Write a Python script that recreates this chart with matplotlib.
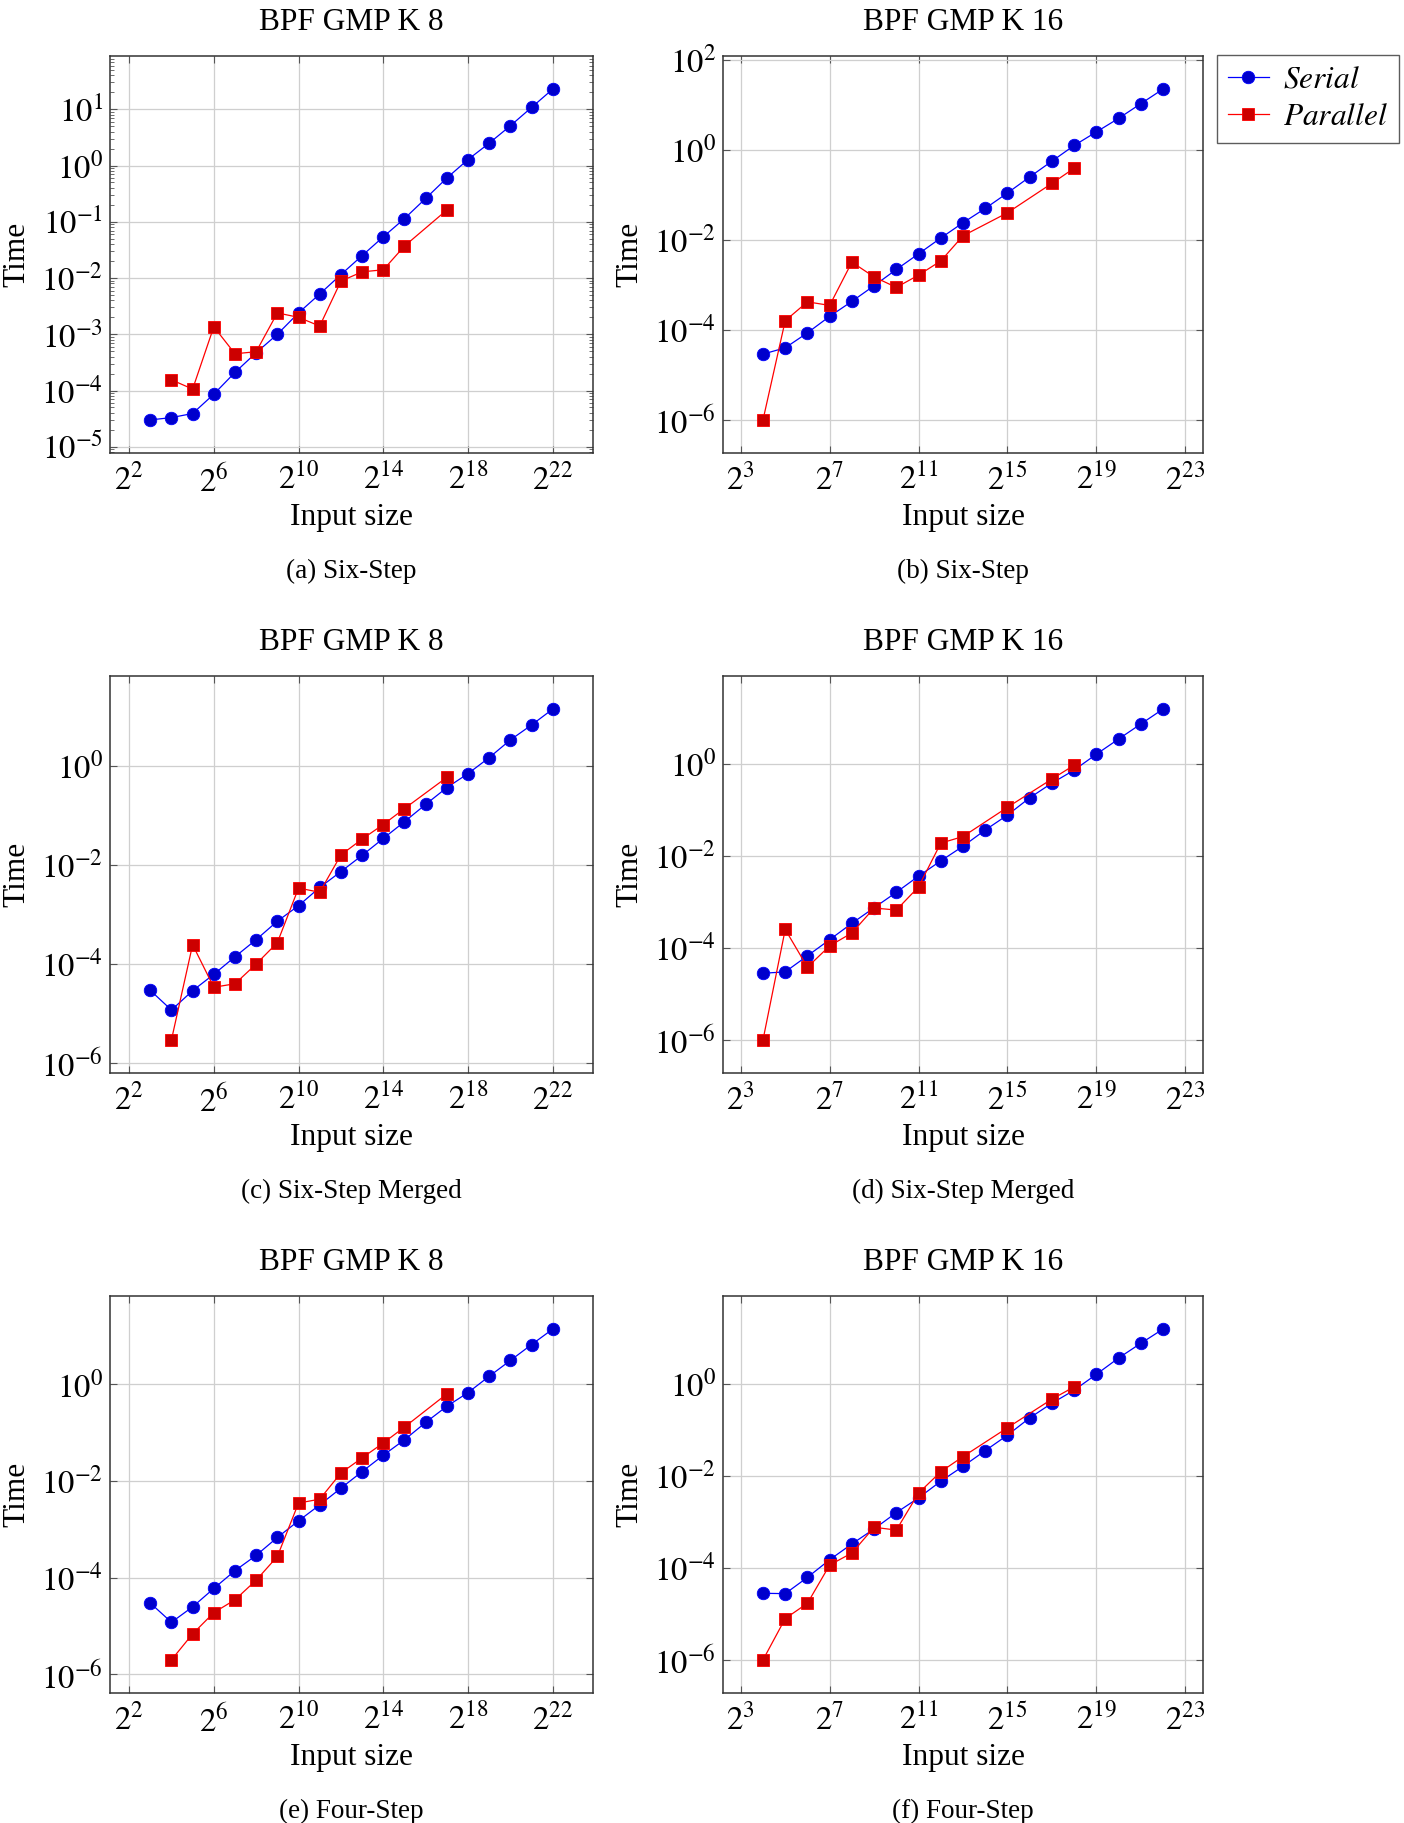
import matplotlib as mpl
mpl.use("Agg")
import matplotlib.pyplot as plt
import matplotlib.ticker as mticker
import numpy as np

plt.rcParams['font.family'] = 'serif'
plt.rcParams['font.serif'] = ['Liberation Serif', 'DejaVu Serif']
plt.rcParams['mathtext.fontset'] = 'stix'

FS = 22.6
TICK_FS = 23.6
BLUE = "#0000FF"
BLUE_FILL = "#0000CC"
RED = "#FF0000"
RED_FILL = "#CC0000"

# input size exponents (2^n)
n_serial_k8 = list(range(3, 23))
n_parallel_k8 = list(range(4, 16)) + [17]
n_serial_k16 = list(range(4, 23))
n_parallel_k16 = list(range(4, 14)) + [15, 17, 18]

# (a) Six-Step, K 8
a_serial = [3.0e-5, 3.3e-5, 3.9e-5, 8.6e-5, 2.1e-4, 4.7e-4, 1.0e-3, 2.4e-3, 5.2e-3, 1.15e-2,
            2.5e-2, 5.4e-2, 0.114, 0.26, 0.60, 1.28, 2.5, 5.1, 10.8, 22.9]
a_parallel = [1.55e-4, 1.06e-4, 1.36e-3, 4.5e-4, 4.9e-4, 2.4e-3, 2.0e-3, 1.4e-3, 8.8e-3,
              1.29e-2, 1.4e-2, 3.7e-2, 0.162]

# (b) Six-Step, K 16
b_serial = [2.9e-5, 4.0e-5, 8.6e-5, 2.0e-4, 4.3e-4, 9.6e-4, 2.2e-3, 4.9e-3, 1.1e-2, 2.4e-2,
            5.0e-2, 0.11, 0.25, 0.56, 1.25, 2.5, 5.0, 10.6, 22.4]
b_parallel = [1.0e-6, 1.6e-4, 4.2e-4, 3.5e-4, 3.2e-3, 1.5e-3, 8.8e-4, 1.65e-3, 3.4e-3,
              1.23e-2, 4.0e-2, 0.18, 0.39]

# (c) Six-Step Merged, K 8
c_serial = [2.95e-5, 1.18e-5, 2.9e-5, 6.2e-5, 1.4e-4, 3.1e-4, 7.3e-4, 1.5e-3, 3.5e-3, 7.3e-3,
            1.55e-2, 3.4e-2, 7.4e-2, 0.165, 0.36, 0.69, 1.45, 3.3, 6.6, 13.8]
c_parallel = [2.95e-6, 2.45e-4, 3.4e-5, 4.0e-5, 1.0e-4, 2.7e-4, 3.4e-3, 2.8e-3, 1.58e-2,
              3.3e-2, 6.5e-2, 0.136, 0.58]

# (d) Six-Step Merged, K 16
d_serial = [2.8e-5, 3.0e-5, 6.7e-5, 1.5e-4, 3.4e-4, 7.4e-4, 1.6e-3, 3.6e-3, 7.7e-3, 1.6e-2,
            3.6e-2, 7.6e-2, 0.18, 0.375, 0.72, 1.59, 3.4, 7.2, 15.2]
d_parallel = [1.0e-6, 2.5e-4, 3.8e-5, 1.1e-4, 2.1e-4, 7.3e-4, 6.6e-4, 2.1e-3, 1.87e-2,
              2.6e-2, 0.112, 0.46, 0.92]

# (e) Four-Step, K 8
e_serial = [3.0e-5, 1.2e-5, 2.5e-5, 6.0e-5, 1.4e-4, 2.9e-4, 6.8e-4, 1.5e-3, 3.2e-3, 7.1e-3,
            1.56e-2, 3.4e-2, 7.1e-2, 0.162, 0.35, 0.67, 1.46, 3.1, 6.6, 13.8]
e_parallel = [2.0e-6, 6.9e-6, 1.9e-5, 3.5e-5, 8.9e-5, 2.75e-4, 3.5e-3, 4.2e-3, 1.46e-2,
              3.0e-2, 6.1e-2, 0.13, 0.63]

# (f) Four-Step, K 16
f_serial = [2.8e-5, 2.75e-5, 6.2e-5, 1.5e-4, 3.3e-4, 7.0e-4, 1.58e-3, 3.3e-3, 7.6e-3, 1.6e-2,
            3.5e-2, 7.6e-2, 0.18, 0.375, 0.72, 1.59, 3.6, 7.5, 15.3]
f_parallel = [1.0e-6, 7.9e-6, 1.7e-5, 1.15e-4, 2.1e-4, 7.6e-4, 6.6e-4, 4.2e-3, 1.22e-2,
              2.6e-2, 0.11, 0.46, 0.85]

titles = ["BPF GMP K 8", "BPF GMP K 16"]
captions = ["(a) Six-Step", "(b) Six-Step", "(c) Six-Step Merged", "(d) Six-Step Merged",
            "(e) Four-Step", "(f) Four-Step"]

xticks_k8 = [2, 6, 10, 14, 18, 22]
xticks_k16 = [3, 7, 11, 15, 19, 23]

W, H = 1404, 1823
fig = plt.figure(figsize=(W / 100, H / 100), dpi=100)

lefts = [110, 723]
widths = [483, 480]
tops = [56, 676, 1296]
ah = 397

panels = [
    (a_serial, a_parallel), (b_serial, b_parallel),
    (c_serial, c_parallel), (d_serial, d_parallel),
    (e_serial, e_parallel), (f_serial, f_parallel),
]


def draw_panel(ax, serial, parallel, col, ystep, caption):
    if col == 0:
        ns, npar, xt = n_serial_k8, n_parallel_k8, xticks_k8
    else:
        ns, npar, xt = n_serial_k16, n_parallel_k16, xticks_k16
    xs = [2.0 ** n for n in ns]
    xp = [2.0 ** n for n in npar]

    ax.plot(xs, serial, color=BLUE, lw=0.9, marker="o", markersize=9,
            markerfacecolor=BLUE_FILL, markeredgecolor=BLUE, markeredgewidth=0.6,
            label="$Serial$", zorder=3)
    ax.plot(xp, parallel, color=RED, lw=0.9, marker="s", markersize=8.3,
            markerfacecolor=RED_FILL, markeredgecolor=RED, markeredgewidth=0.6,
            label="$Parallel$", zorder=4)

    ax.set_xscale("log", base=2)
    ax.set_yscale("log")
    ax.margins(x=0.1, y=0.1)

    ax.xaxis.set_major_locator(mticker.FixedLocator([2.0 ** t for t in xt]))
    ax.xaxis.set_major_formatter(mticker.FuncFormatter(
        lambda v, p: r"$2^{%d}$" % int(round(np.log2(v)))))
    ax.xaxis.set_minor_locator(mticker.NullLocator())

    ylo, yhi = ax.get_ylim()
    dec = np.arange(-8, 4, ystep)
    ax.yaxis.set_major_locator(mticker.FixedLocator([10.0 ** d for d in dec]))
    ax.yaxis.set_major_formatter(mticker.FuncFormatter(
        lambda v, p: r"$10^{%d}$" % int(round(np.log10(v)))))
    if ystep == 1:
        ax.yaxis.set_minor_locator(mticker.LogLocator(base=10, subs=np.arange(2, 10), numticks=30))
        ax.yaxis.set_minor_formatter(mticker.NullFormatter())
    else:
        ax.yaxis.set_minor_locator(mticker.NullLocator())
    ax.set_ylim(ylo, yhi)

    ax.grid(True, which="major", color="#cfcfcf", lw=0.9, zorder=0)
    ax.set_axisbelow(True)
    for s in ax.spines.values():
        s.set_edgecolor("#333333")
        s.set_linewidth(1.1)

    ax.tick_params(axis="both", which="major", direction="in", top=True, right=True,
                   length=5, width=0.8, colors="#555555", labelcolor="black",
                   labelsize=TICK_FS)
    ax.tick_params(axis="x", which="major", pad=8)
    ax.tick_params(axis="y", which="major", pad=5)
    ax.tick_params(axis="y", which="minor", direction="in", left=True, right=True,
                   length=3, width=0.6, colors="#555555")

    ax.set_xlabel("Input size", fontsize=FS, va="center")
    ax.xaxis.set_label_coords(0.5, -0.162)
    ax.set_ylabel("Time", fontsize=FS, va="center")
    ax.yaxis.set_label_coords(-0.193, 0.5)
    ax.set_title(titles[col], fontsize=FS, y=1.0655, pad=0)
    ax.text(0.5, -0.315, caption, transform=ax.transAxes, ha="center",
            va="baseline", fontsize=19.5)


axes = []
for i, (serial, parallel) in enumerate(panels):
    row, col = divmod(i, 2)
    ax = fig.add_axes([lefts[col] / W, 1 - (tops[row] + ah) / H, widths[col] / W, ah / H])
    ystep = 1 if i == 0 else 2
    draw_panel(ax, serial, parallel, col, ystep, captions[i])
    axes.append(ax)

leg = axes[1].legend(loc="upper left", bbox_to_anchor=(1217 / W, 1 - 55 / H),
                     bbox_transform=fig.transFigure, borderaxespad=0, fontsize=FS,
                     frameon=True, fancybox=False, edgecolor="#333333",
                     handlelength=1.3, handletextpad=0.45, labelspacing=0.25,
                     borderpad=0.35)
leg.get_frame().set_linewidth(1.0)

fig.savefig("out.png", dpi=100)
